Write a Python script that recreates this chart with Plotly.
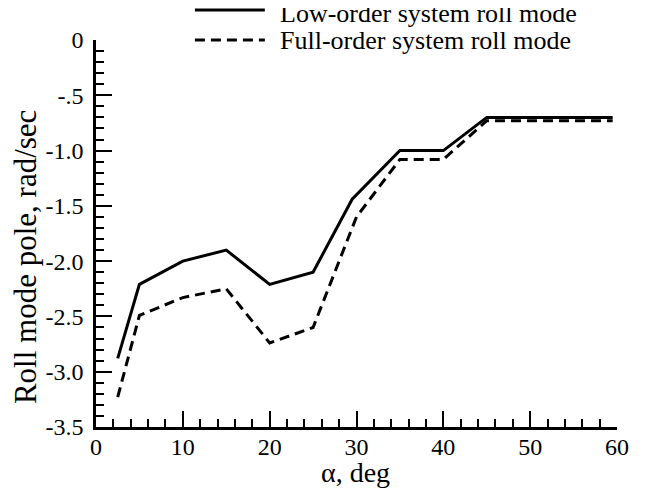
import plotly.graph_objects as go

# Data
alpha_low = [2.5, 5, 10, 15, 20, 25, 29.5, 35, 40, 45, 59.5]
pole_low = [-2.88, -2.21, -2.0, -1.90, -2.21, -2.10, -1.44, -1.0, -1.0, -0.70, -0.70]
alpha_full = [2.5, 5, 10, 15, 20, 25, 30, 35, 40, 45, 59.5]
pole_full = [-3.23, -2.49, -2.33, -2.25, -2.74, -2.60, -1.60, -1.08, -1.08, -0.73, -0.73]

x_range = [0, 60]
y_range = [-3.5, 0]
x_major = [0, 10, 20, 30, 40, 50, 60]
y_major = [0, -0.5, -1.0, -1.5, -2.0, -2.5, -3.0, -3.5]
y_major_text = ["0", "-.5", "-1.0", "-1.5", "-2.0", "-2.5", "-3.0", "-3.5"]
x_minor = list(range(0, 61, 2))
y_minor = [round(-0.1 * i, 1) for i in range(36)]
legend_names = ["Low-order system roll mode", "Full-order system roll mode"]
x_title = "α, deg"
y_title = "Roll mode pole, rad/sec"

# labels only at the major positions
x_minor_text = [str(v) if v in x_major else "" for v in x_minor]
y_lab = dict(zip(y_major, y_major_text))
y_minor_text = [y_lab.get(v, "") for v in y_minor]

FONT = "Liberation Serif"
OFF = 8  # page body margin

W, H = 641, 488
ml, mt, mb = 96 - OFF, 40 - OFF, 69
mr = W - (617.5 - OFF)
pw, ph = W - ml - mr, H - mt - mb

def px_to_paper(x, y):
    """convert page pixel coords of the screenshot to paper coords"""
    return (x - OFF - ml) / pw, 1 - (y - OFF - mt) / ph

fig = go.Figure()
fig.add_trace(go.Scatter(x=alpha_low, y=pole_low, mode="lines",
                         line=dict(color="black", width=3), name=legend_names[0],
                         showlegend=False))
fig.add_trace(go.Scatter(x=alpha_full, y=pole_full, mode="lines",
                         line=dict(color="black", width=3, dash="10px,6px"),
                         name=legend_names[1], showlegend=False))
# invisible copies so the major-tick overlay axes get a subplot
fig.add_trace(go.Scatter(x=alpha_low, y=pole_low, xaxis="x2", yaxis="y", mode="lines",
                         opacity=0, showlegend=False, hoverinfo="skip"))
fig.add_trace(go.Scatter(x=alpha_low, y=pole_low, xaxis="x", yaxis="y2", mode="lines",
                         opacity=0, showlegend=False, hoverinfo="skip"))

legend_rows = [(10, 13, "solid"), (40, 40, "dash")]
for (ly, ty_, dash), name in zip(legend_rows, legend_names):
    x0, y0 = px_to_paper(195, ly)
    x1, _ = px_to_paper(265, ly)
    fig.add_shape(type="line", xref="paper", yref="paper", x0=x0, x1=x1, y0=y0, y1=y0,
                  line=dict(color="black", width=3, dash="10px,6px" if dash == "dash" else "solid"))
    tx, ty = px_to_paper(278, ty_)
    fig.add_annotation(x=tx, y=ty, xref="paper", yref="paper", text=name, showarrow=False,
                       xanchor="left", yanchor="middle",
                       font=dict(family=FONT, size=26, color="black"))

tx, ty = px_to_paper(26, 257)
fig.add_annotation(x=tx, y=ty, xref="paper", yref="paper", text=y_title, showarrow=False,
                   textangle=-90, xanchor="center", yanchor="middle",
                   font=dict(family=FONT, size=31, color="black"))
tx, ty = px_to_paper(356, 472)
fig.add_annotation(x=tx, y=ty, xref="paper", yref="paper", text=x_title, showarrow=False,
                   xanchor="center", yanchor="middle",
                   font=dict(family=FONT, size=28, color="black"))

base = dict(ticks="inside", tickcolor="black", showgrid=False, zeroline=False)

fig.update_layout(
    width=W, height=H,
    margin=dict(l=ml, r=mr, t=mt, b=mb),
    paper_bgcolor="white", plot_bgcolor="white",
    font=dict(family=FONT, size=24, color="black"),
    template="none",
    xaxis=dict(range=x_range, tickmode="array", tickvals=x_minor, ticktext=x_minor_text,
               ticklen=8, tickwidth=2, ticklabelstandoff=-4,
               showline=True, linecolor="black", linewidth=2.5, **base),
    yaxis=dict(range=y_range, tickmode="array", tickvals=y_minor, ticktext=y_minor_text,
               ticklen=8, tickwidth=2, ticklabelstandoff=5,
               showline=True, linecolor="black", linewidth=2.5, **base),
    xaxis2=dict(range=x_range, overlaying="x", anchor="y", side="bottom",
                tickmode="array", tickvals=x_major, ticklen=16, tickwidth=2,
                showticklabels=False, showline=False, **base),
    yaxis2=dict(range=y_range, overlaying="y", anchor="x", side="left",
                tickmode="array", tickvals=y_major, ticklen=16, tickwidth=2,
                showticklabels=False, showline=False, **base),
)

fig.write_html("out.html")
